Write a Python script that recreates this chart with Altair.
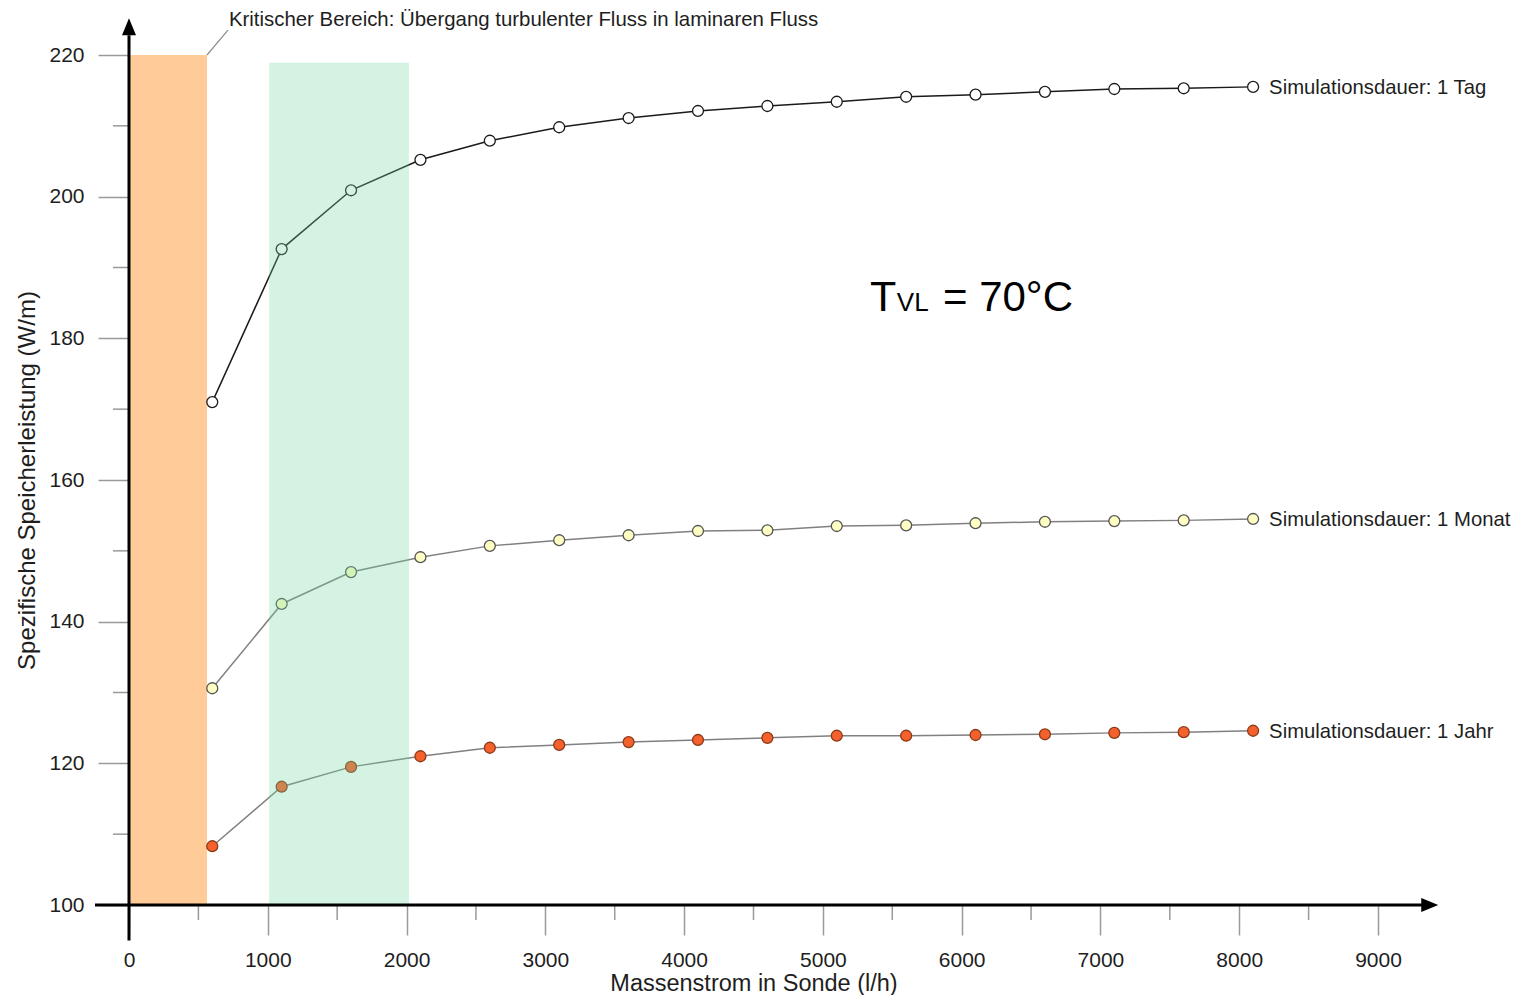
import altair as alt
import pandas as pd

# ---------------- data ----------------
x_flow = [600, 1100, 1600, 2100, 2600, 3100, 3600, 4100, 4600, 5100, 5600, 6100, 6600, 7100, 7600, 8100]
p_tag = [171.0, 192.6, 200.9, 205.2, 207.9, 209.8, 211.1, 212.1, 212.8, 213.4, 214.1, 214.4, 214.8, 215.2, 215.3, 215.5]
p_monat = [130.6, 142.5, 147.0, 149.1, 150.7, 151.5, 152.2, 152.8, 152.9, 153.5, 153.6, 153.9, 154.1, 154.2, 154.3, 154.5]
p_jahr = [108.3, 116.7, 119.5, 121.0, 122.2, 122.6, 123.0, 123.3, 123.6, 123.9, 123.9, 124.0, 124.1, 124.3, 124.4, 124.6]
series_labels = ["Simulationsdauer: 1 Tag", "Simulationsdauer: 1 Monat", "Simulationsdauer: 1 Jahr"]

x_ticks_major = [0, 1000, 2000, 3000, 4000, 5000, 6000, 7000, 8000, 9000]
x_ticks_minor = [500, 1500, 2500, 3500, 4500, 5500, 6500, 7500, 8500]
y_ticks_major = [100, 120, 140, 160, 180, 200, 220]
y_ticks_minor = [110, 130, 150, 170, 190, 210]

crit_band = {"x": 0, "x2": 562, "y": 100, "y2": 220}
trans_band = {"x": 1010, "x2": 2017, "y": 100, "y2": 218.9}
crit_label = "Kritischer Bereich: Übergang turbulenter Fluss in laminaren Fluss"
temp_parts = ["T", "VL", "= 70°C"]
temp_x = [5339, 5533, 5865]
temp_size = [43, 26, 42]
temp_y = 183.8

W, H = 1249, 850
FONT = "Liberation Sans"
TXT = "#1e1e1e"

xs = alt.Scale(domain=[0, 9000], nice=False, zero=False)
ys = alt.Scale(domain=[100, 220], nice=False, zero=False)

x_axis = alt.Axis(values=x_ticks_major, format="d", tickSize=30, tickColor="#9a9a9a", tickWidth=1.5,
                  domain=False, grid=False, labelFontSize=21, labelColor=TXT, labelPadding=14,
                  labelFlush=False, title="Massenstrom in Sonde (l/h)", titleFontSize=23.5,
                  titleFontWeight="normal", titleColor=TXT, titleBaseline="alphabetic", titleY=85.5)
y_axis = alt.Axis(values=y_ticks_major, format="d", tickSize=31, tickColor="#9a9a9a", tickWidth=1.5,
                  domain=False, grid=False, labelFontSize=21, labelColor=TXT, labelPadding=14,
                  labelFlush=False, title="Spezifische Speicherleistung (W/m)", titleFontSize=24,
                  titleFontWeight="normal", titleColor=TXT, titlePadding=9)


def X(f="x"):
    return alt.X(f + ":Q", scale=xs, axis=x_axis)


def Y(f="y"):
    return alt.Y(f + ":Q", scale=ys, axis=y_axis)


# bands
orange = alt.Chart(pd.DataFrame([crit_band])).mark_rect(color="#ffcc99").encode(
    x=X("x"), x2="x2:Q", y=Y("y"), y2="y2:Q")
green = alt.Chart(pd.DataFrame([trans_band])).mark_rect(color="#6fd6a0", opacity=0.3).encode(
    x=X("x"), x2="x2:Q", y=Y("y"), y2="y2:Q")


def series(vals, line_color, fill, stroke):
    df = pd.DataFrame({"x": x_flow, "y": vals})
    base = alt.Chart(df)
    line = base.mark_line(color=line_color, strokeWidth=1.5).encode(x=X(), y=Y())
    pts = base.mark_point(shape="circle", filled=True, fill=fill, stroke=stroke, strokeWidth=1.3,
                          size=120, opacity=1).encode(x=X(), y=Y())
    return line + pts


s_tag = series(p_tag, "#1a1a1a", "#ffffff", "#1a1a1a")
s_monat = series(p_monat, "#808080", "#ffffc4", "#555555")
s_jahr = series(p_jahr, "#808080", "#f5612d", "#8a3a1a")

labels_df = pd.DataFrame({"x": [x_flow[-1]] * 3, "y": [p_tag[-1], p_monat[-1], p_jahr[-1]],
                          "t": series_labels})
s_labels = alt.Chart(labels_df).mark_text(align="left", baseline="middle", dx=16, dy=1, fontSize=20.3,
                                          font=FONT, color=TXT).encode(x=X(), y=Y(), text="t:N")

# minor ticks
xminor = alt.Chart(pd.DataFrame({"v": x_ticks_minor})).mark_rule(color="#9a9a9a", strokeWidth=1.5).encode(
    x=X("v"), y=alt.value(H), y2=alt.value(H + 15))
yminor = alt.Chart(pd.DataFrame({"v": y_ticks_minor})).mark_rule(color="#9a9a9a", strokeWidth=1.5).encode(
    y=Y("v"), x=alt.value(-16), x2=alt.value(0))

# axis lines with arrows
axis_lines = pd.DataFrame({"x": [-245, 0], "x2": [9330, 0], "y": [100, 95], "y2": [100, 222.8]})
ax_rules = alt.Chart(axis_lines).mark_rule(color="black", strokeWidth=3).encode(
    x=X("x"), x2="x2:Q", y=Y("y"), y2="y2:Q")
arrow_up = alt.Chart(pd.DataFrame({"x": [0], "y": [224.0]})).mark_point(
    shape="M-0.7,0.85L0.7,0.85L0,-0.85Z", filled=True, color="black", size=400, opacity=1).encode(x=X(), y=Y())
arrow_right = alt.Chart(pd.DataFrame({"x": [9373], "y": [100]})).mark_point(
    shape="M-0.85,-0.7L0.85,0L-0.85,0.7Z", filled=True, color="black", size=400, opacity=1).encode(x=X(), y=Y())

# critical annotation
leader = alt.Chart(pd.DataFrame({"x": [562], "x2": [713], "y": [220], "y2": [223.5]})).mark_rule(
    color="#8c8c8c", strokeWidth=1.2).encode(x=X("x"), x2="x2:Q", y=Y("y"), y2="y2:Q")
crit_text = alt.Chart(pd.DataFrame({"x": [720], "y": [224.1], "t": [crit_label]})).mark_text(
    align="left", baseline="alphabetic", fontSize=20.4, font=FONT, color=TXT).encode(x=X(), y=Y(), text="t:N")

temp_df = pd.DataFrame({"x": temp_x, "y": [temp_y] * 3, "t": temp_parts, "fs": temp_size})
temp_text = alt.Chart(temp_df).mark_text(align="left", baseline="alphabetic", font=FONT, color="black").encode(
    x=X(), y=Y(), text="t:N", size=alt.Size("fs:Q", scale=None, legend=None))

chart = alt.layer(
    orange, s_monat, s_jahr, s_tag, green, xminor, yminor, ax_rules, arrow_up, arrow_right,
    leader, crit_text, temp_text, s_labels
).properties(
    width=W, height=H,
    autosize=alt.AutoSizeParams(type="none"),
    padding={"left": 121, "top": 47, "right": 133, "bottom": 90},
).configure(font=FONT).configure_view(stroke=None, strokeWidth=0)

chart.save("out.html", embed_options={"renderer": "svg", "actions": False})
